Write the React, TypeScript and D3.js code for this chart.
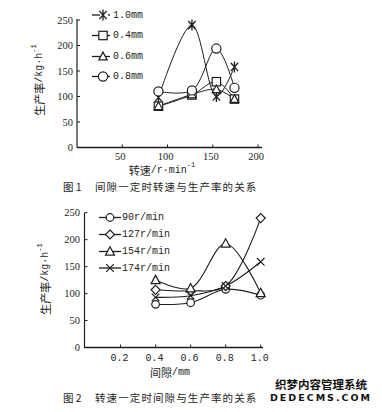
import React from "react";
import * as d3 from "d3";

// ---------- Chart 1 data ----------
const speeds = [90, 127, 154, 174];
const gapLabels = ["1.0mm", "0.4mm", "0.6mm", "0.8mm"];
const gap10 = [98, 240, 100, 158];
const gap04 = [81, 103, 129, 95];
const gap06 = [81, 104, 114, 95];
const gap08 = [110, 112, 194, 117];
const chart1XTicks = [50, 100, 150, 200];
const yTicks = [0, 50, 100, 150, 200, 250];

// ---------- Chart 2 data ----------
const gaps = [0.4, 0.6, 0.8, 1.0];
const speedLabels = ["90r/min", "127r/min", "154r/min", "174r/min"];
const rpm90 = [80, 83, 108, 97];
const rpm127 = [107, 105, 114, 240];
const rpm154 = [125, 110, 193, 101];
const rpm174 = [93, 96, 114, 159];
const chart2XTicks = [0.2, 0.4, 0.6, 0.8, 1.0];

const INK = "#1e1e1e";
const MONO = "'Liberation Mono', 'Noto Sans CJK SC', monospace";
const SERIF = "'Liberation Serif', 'Noto Sans CJK SC', serif";
const CJK = "'Noto Sans CJK SC', 'Liberation Mono', sans-serif";

type MarkerKind = "asterisk" | "square" | "triangle" | "circle" | "diamond" | "cross";

function Marker({ kind, x, y, s }: { kind: MarkerKind; x: number; y: number; s: number }) {
  const common = { fill: "#fff", stroke: INK, strokeWidth: 1.2 };
  switch (kind) {
    case "asterisk":
      return (
        <path
          d={`M${x - s * 0.8},${y - s * 0.9}L${x + s * 0.8},${y + s * 0.9}M${x + s * 0.8},${y - s * 0.9}L${x - s * 0.8},${y + s * 0.9}M${x},${y - s * 1.2}L${x},${y + s * 1.2}`}
          fill="none"
          stroke={INK}
          strokeWidth={1.3}
        />
      );
    case "square":
      return <rect x={x - s} y={y - s} width={2 * s} height={2 * s} {...common} />;
    case "triangle":
      return <path d={`M${x},${y - s * 1.05}L${x + s},${y + s * 0.8}L${x - s},${y + s * 0.8}Z`} {...common} />;
    case "circle":
      return <circle cx={x} cy={y} r={s} {...common} />;
    case "diamond":
      return <path d={`M${x},${y - s}L${x + s},${y}L${x},${y + s}L${x - s},${y}Z`} {...common} />;
    case "cross":
      return (
        <path
          d={`M${x - s},${y - s}L${x + s},${y + s}M${x + s},${y - s}L${x - s},${y + s}`}
          fill="none"
          stroke={INK}
          strokeWidth={1.2}
        />
      );
  }
  return null;
}

function YTitle({ x, y }: { x: number; y: number }) {
  return (
    <text
      transform={`translate(${x},${y}) rotate(-90)`}
      textAnchor="middle"
      dominantBaseline="central"
      fontSize={11}
      fill={INK}
    >
      <tspan fontFamily={CJK}>生产率</tspan>
      <tspan fontFamily={MONO} fontSize={10}>/kg·h</tspan>
      <tspan fontFamily={MONO} fontSize={7} dy={-5}>-1</tspan>
    </text>
  );
}

function Chart1() {
  const x = d3.scaleLinear().domain([0, 200]).range([77, 258]);
  const y = d3.scaleLinear().domain([0, 250]).range([147.5, 20]);
  const line = d3
    .line<number>()
    .x((_, i) => x(speeds[i]))
    .y((d) => y(d))
    .curve(d3.curveCatmullRom.alpha(0.5));
  const series: { vals: number[]; kind: MarkerKind; s: number }[] = [
    { vals: gap10, kind: "asterisk", s: 4.6 },
    { vals: gap04, kind: "square", s: 4.2 },
    { vals: gap06, kind: "triangle", s: 4.2 },
    { vals: gap08, kind: "circle", s: 4.6 },
  ];
  const legendY = [15, 35.5, 56.5, 76.5];
  return (
    <g>
      <line x1={x(0)} x2={x(0)} y1={y(0)} y2={y(250) - 1} stroke={INK} strokeWidth={1.2} />
      <line x1={x(0)} x2={262} y1={y(0)} y2={y(0)} stroke={INK} strokeWidth={1.4} />
      {yTicks.map((t) => (
        <g key={t}>
          <line x1={x(0)} x2={x(0) + 3} y1={y(t)} y2={y(t)} stroke={INK} strokeWidth={1} />
          <text x={73} y={y(t)} textAnchor="end" dominantBaseline="central" fontFamily={SERIF} fontSize={10.5} fill={INK}>
            {t}
          </text>
        </g>
      ))}
      {chart1XTicks.map((t) => (
        <g key={t}>
          <line x1={x(t)} x2={x(t)} y1={y(0)} y2={y(0) - 3} stroke={INK} strokeWidth={1} />
          <text x={x(t) - 2} y={156} textAnchor="middle" dominantBaseline="central" fontFamily={SERIF} fontSize={10.5} fill={INK}>
            {t}
          </text>
        </g>
      ))}
      {series.map((s, i) => (
        <path key={i} d={line(s.vals) || ""} fill="none" stroke={INK} strokeWidth={1} />
      ))}
      {series.map((s, i) =>
        s.vals.map((v, j) => <Marker key={`${i}-${j}`} kind={s.kind} x={x(speeds[j])} y={y(v)} s={s.s} />)
      )}
      {series.map((s, i) => (
        <g key={`lg${i}`}>
          {s.kind === "asterisk" ? (
            <>
              <line x1={92} x2={100} y1={legendY[i]} y2={legendY[i]} stroke={INK} strokeWidth={1.3} />
              <circle cx={109} cy={legendY[i]} r={0.9} fill={INK} />
            </>
          ) : (
            <line x1={92} x2={110} y1={legendY[i]} y2={legendY[i]} stroke={INK} strokeWidth={1.3} />
          )}
          <Marker kind={s.kind} x={103} y={legendY[i]} s={s.s} />
          <text x={113} y={legendY[i]} dominantBaseline="central" fontFamily={MONO} fontSize={10} fill={INK}>
            {gapLabels[i]}
          </text>
        </g>
      ))}
      <YTitle x={39} y={80} />
      <text x={162} y={170} textAnchor="middle" dominantBaseline="central" fontSize={11} fill={INK}>
        <tspan fontFamily={CJK}>转速</tspan>
        <tspan fontFamily={MONO} fontSize={10}>/r·min</tspan>
        <tspan fontFamily={MONO} fontSize={7} dy={-5}>-1</tspan>
      </text>
      <text x={63} y={186} dominantBaseline="central" fontFamily={CJK} fontSize={10.5} fill={INK}>
        图 1
      </text>
      <text x={95} y={186} dominantBaseline="central" fontFamily={CJK} fontSize={10.5} letterSpacing={1.1} fill={INK}>
        间隙一定时转速与生产率的关系
      </text>
    </g>
  );
}

function Chart2() {
  const x = d3.scaleLinear().domain([0, 1]).range([85.5, 260.7]);
  const y = d3.scaleLinear().domain([0, 250]).range([347.5, 212.7]);
  const line = d3
    .line<number>()
    .x((_, i) => x(gaps[i]))
    .y((d) => y(d))
    .curve(d3.curveCatmullRom.alpha(0.5));
  const series: { vals: number[]; kind: MarkerKind; s: number }[] = [
    { vals: rpm90, kind: "circle", s: 3.8 },
    { vals: rpm127, kind: "diamond", s: 4.5 },
    { vals: rpm154, kind: "triangle", s: 4.5 },
    { vals: rpm174, kind: "cross", s: 3.8 },
  ];
  const legendY = [217.5, 234.5, 251.5, 268];
  return (
    <g>
      <line x1={x(0) - 1} x2={x(0) - 1} y1={y(0)} y2={y(250)} stroke={INK} strokeWidth={1.2} />
      <line x1={x(0) - 1} x2={263} y1={y(0)} y2={y(0)} stroke={INK} strokeWidth={1.4} />
      {yTicks.map((t) => (
        <g key={t}>
          <line x1={x(0) - 1} x2={x(0) + 2} y1={y(t)} y2={y(t)} stroke={INK} strokeWidth={1} />
          <text x={80} y={y(t)} textAnchor="end" dominantBaseline="central" fontFamily={SERIF} fontSize={10.5} fill={INK}>
            {t}
          </text>
        </g>
      ))}
      {chart2XTicks.map((t) => (
        <g key={t}>
          <line x1={x(t)} x2={x(t)} y1={y(0)} y2={y(0) - 3} stroke={INK} strokeWidth={1} />
          <text x={x(t) - 1} y={358} textAnchor="middle" dominantBaseline="central" fontFamily={MONO} fontSize={10} fill={INK}>
            {t.toFixed(1)}
          </text>
        </g>
      ))}
      {series.map((s, i) => (
        <path key={i} d={line(s.vals) || ""} fill="none" stroke={INK} strokeWidth={1.1} />
      ))}
      {series.map((s, i) =>
        s.vals.map((v, j) => <Marker key={`${i}-${j}`} kind={s.kind} x={x(gaps[j])} y={y(v)} s={s.s} />)
      )}
      {series.map((s, i) => (
        <g key={`lg${i}`}>
          <line x1={99} x2={121} y1={legendY[i]} y2={legendY[i]} stroke={INK} strokeWidth={1.3} />
          <Marker kind={s.kind} x={110} y={legendY[i]} s={s.s} />
          <text x={122} y={legendY[i]} dominantBaseline="central" fontFamily={MONO} fontSize={10} fill={INK}>
            {speedLabels[i]}
          </text>
        </g>
      ))}
      <YTitle x={45} y={279} />
      <text x={170} y={372} textAnchor="middle" dominantBaseline="central" fontSize={11} fill={INK}>
        <tspan fontFamily={CJK}>间隙</tspan>
        <tspan fontFamily={MONO} fontSize={10}>/mm</tspan>
      </text>
      <text x={63} y={397} dominantBaseline="central" fontFamily={CJK} fontSize={10.5} fill={INK}>
        图 2
      </text>
      <text x={95} y={397} dominantBaseline="central" fontFamily={CJK} fontSize={10.5} letterSpacing={1.1} fill={INK}>
        转速一定时间隙与生产率的关系
      </text>
    </g>
  );
}

export default function App() {
  return (
    <svg
      width={382}
      height={412}
      viewBox="0 0 382 412"
      style={{ position: "absolute", left: 0, top: 0, background: "#fff" }}
    >
      <rect width={382} height={412} fill="#fff" />
      <Chart1 />
      <Chart2 />
      <text
        x={321}
        y={384}
        textAnchor="middle"
        dominantBaseline="central"
        fontFamily={CJK}
        fontWeight="bold"
        fontSize={11.5}
        fill="#111"
      >
        织梦内容管理系统
      </text>
      <text
        x={321}
        y={397.5}
        textAnchor="middle"
        dominantBaseline="central"
        fontFamily="'DejaVu Sans', sans-serif"
        fontWeight="bold"
        fontSize={9.5}
        letterSpacing={2}
        fill="#111"
      >
        DEDECMS.COM
      </text>
    </svg>
  );
}
